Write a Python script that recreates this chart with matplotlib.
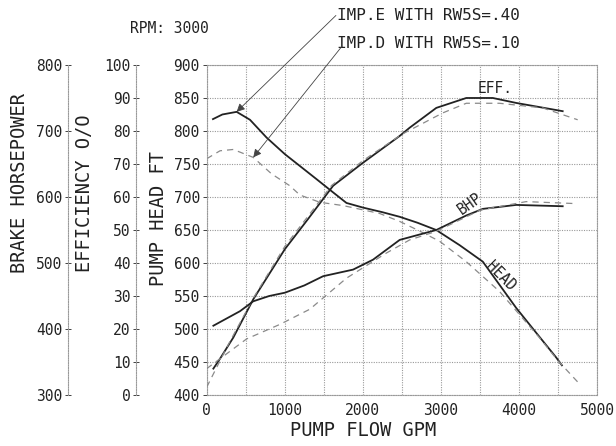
import matplotlib.pyplot as plt
import numpy as np

plt.rcParams['font.family'] = ['DejaVu Sans Mono', 'DejaVu Sans']

# pump test curves, flow in GPM
# IMP.E (solid) and IMP.D (dashed)
head_e_q = [80, 200, 383, 554, 767, 1000, 1193, 1407, 1619, 1790, 2000, 2250, 2472, 2700, 2940, 3240, 3537, 3964, 4250, 4476, 4550]
head_e = [818, 825, 829, 817, 790, 765, 747, 727, 707, 691, 684, 677, 670, 661, 650, 627, 602, 532, 490, 457, 445]
head_d_q = [0, 170, 340, 596, 831, 1065, 1193, 1449, 1747, 2216, 2472, 2700, 2983, 3325, 3750, 4262, 4500, 4774]
head_d = [758, 770, 772, 760, 735, 717, 703, 692, 687, 675, 663, 650, 633, 602, 557, 487, 452, 417]

eff_e_q = [85, 170, 340, 596, 1001, 1300, 1619, 2003, 2472, 2600, 2941, 3325, 3665, 3964, 4560]
eff_e = [8, 11, 17.4, 29, 44.2, 53.4, 63.4, 70.4, 78.5, 81, 87, 90, 90, 88.5, 86]
eff_d_q = [0, 256, 600, 1000, 1600, 2000, 2500, 3026, 3325, 3750, 4304, 4752]
eff_d = [2.4, 14.4, 29.5, 45, 63.5, 71, 79, 85.5, 88.4, 88.4, 87, 83.4]

bhp_e_q = [85, 426, 596, 800, 1001, 1250, 1491, 1875, 2130, 2472, 2941, 3325, 3537, 3964, 4560]
bhp_e = [405, 427, 442, 450, 455, 466, 480, 490, 505, 535, 550, 572, 582, 588, 586]
bhp_d_q = [0, 511, 937, 1321, 1790, 2300, 2600, 2941, 3500, 4092, 4731]
bhp_d = [340, 385, 407, 430, 477, 515, 535, 548, 580, 593, 590]

ink = '#222222'
dash_col = '#8a8a8a'
grid_col = '#999999'
dotted = (0, (1, 1.2))

fig = plt.figure(figsize=(6.16, 4.46), dpi=100)
ax = fig.add_axes([0.3356, 0.1143, 0.6336, 0.740])
ax.set_xlim(0, 5000)
ax.set_ylim(400, 900)
ax.set_xticks(np.arange(0, 5001, 1000))
ax.set_xticks(np.arange(0, 5001, 500), minor=True)
ax.set_yticks(np.arange(400, 901, 50))
ax.grid(True, which='both', color=grid_col, linestyle=dotted, linewidth=0.8)
for s in ax.spines.values():
    s.set_linestyle(dotted)
    s.set_color(grid_col)
    s.set_linewidth(0.8)
ax.tick_params(axis='x', which='both', length=0, pad=6, labelsize=10.5, colors=ink)
ax.tick_params(axis='y', length=3, width=0.6, pad=2, labelsize=10.5, colors=ink)

# efficiency and horsepower scales on extra left spines
ax_eff = ax.twinx()
ax_bhp = ax.twinx()
for a, lim, step, pos in [(ax_eff, (0, 100), 10, -0.181), (ax_bhp, (300, 800), 100, -0.355)]:
    a.set_ylim(*lim)
    a.set_yticks(np.arange(lim[0], lim[1] + 1, step))
    a.yaxis.set_ticks_position('left')
    for name, s in a.spines.items():
        s.set_visible(name == 'left')
    a.spines['left'].set_position(('axes', pos))
    a.spines['left'].set_linestyle(dotted)
    a.spines['left'].set_color(grid_col)
    a.spines['left'].set_linewidth(0.8)
    a.tick_params(axis='y', direction='inout', length=4, width=0.6, pad=2,
                  labelsize=10.5, colors=ink)

ax.plot(head_e_q, head_e, color=ink, lw=1.3)
ax.plot(head_d_q, head_d, color=dash_col, lw=0.9, linestyle=(0, (5, 4)))
ax_eff.plot(eff_e_q, eff_e, color=ink, lw=1.3)
ax_eff.plot(eff_d_q, eff_d, color=dash_col, lw=0.9, linestyle=(0, (5, 4)))
ax_bhp.plot(bhp_e_q, bhp_e, color=ink, lw=1.3)
ax_bhp.plot(bhp_d_q, bhp_d, color=dash_col, lw=0.9, linestyle=(0, (5, 4)))

# curve names
ax.text(3690, 864, 'EFF.', fontsize=10.5, color=ink, ha='center', va='center')
ax.text(3376, 689, 'BHP', fontsize=10.5, color=ink, ha='center', va='center', rotation=35)
ax.text(3760, 580, 'HEAD', fontsize=10.5, color=ink, ha='center', va='center', rotation=-45)

# impeller notes with leader arrows
ax.text(-985, 956, 'RPM: 3000', fontsize=10.5, color=ink, va='center', clip_on=False)
ax.text(1667, 975, 'IMP.E WITH RW5S=.40', fontsize=11.5, color=ink, va='center', clip_on=False)
ax.text(1667, 932, 'IMP.D WITH RW5S=.10', fontsize=11.5, color=ink, va='center', clip_on=False)
arrow = dict(arrowstyle='-|>', color='#444444', lw=0.6, mutation_scale=12, shrinkA=0, shrinkB=0)
ax.annotate('', xy=(383, 829), xytext=(1655, 975), arrowprops=arrow, annotation_clip=False)
ax.annotate('', xy=(596, 760), xytext=(1730, 928), arrowprops=arrow, annotation_clip=False)

fig.text(20 / 616, 1 - 183 / 446, 'BRAKE HORSEPOWER', rotation=90, fontsize=13.5,
         color=ink, ha='center', va='center')
fig.text(84 / 616, 1 - 193 / 446, 'EFFICIENCY O/O', rotation=90, fontsize=13.5,
         color=ink, ha='center', va='center')
fig.text(158 / 616, 1 - 218 / 446, 'PUMP HEAD FT', rotation=90, fontsize=13.5,
         color=ink, ha='center', va='center')
fig.text(363 / 616, 1 - 430 / 446, 'PUMP FLOW GPM', fontsize=13.5,
         color=ink, ha='center', va='center')

fig.savefig('out.png', dpi=100)
